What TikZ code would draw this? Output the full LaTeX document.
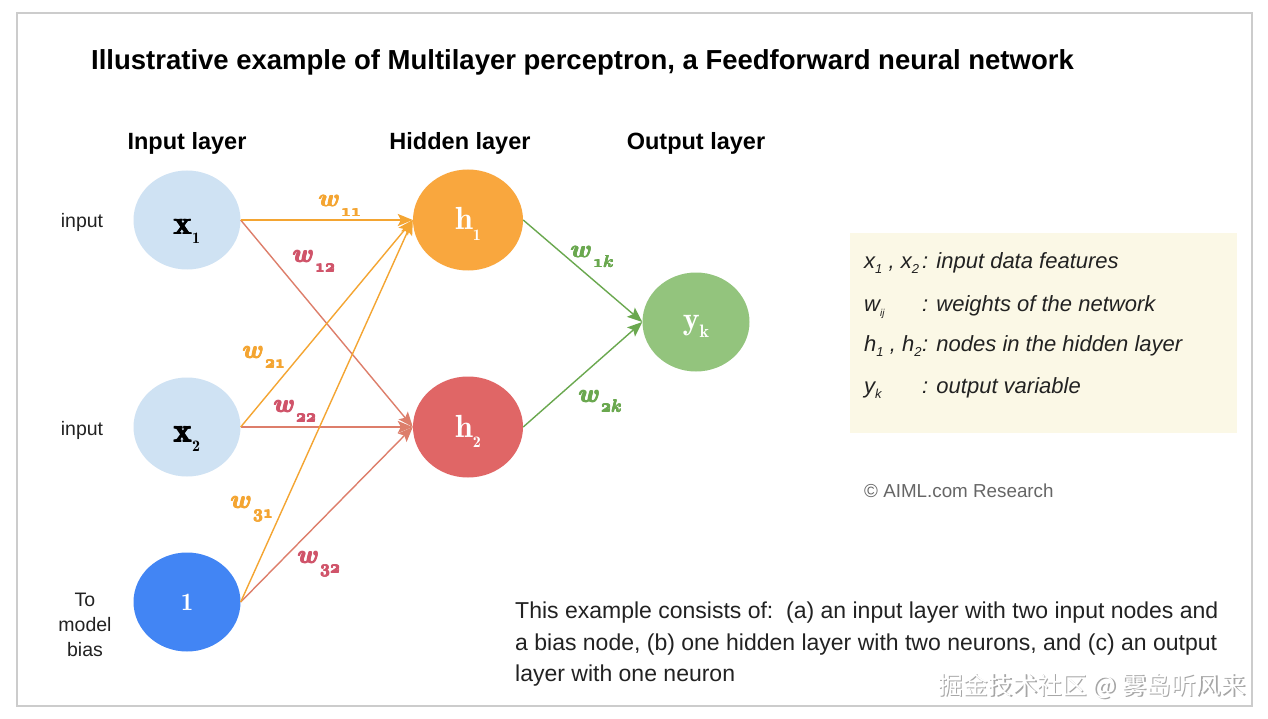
\documentclass[tikz,border=0pt]{standalone}
\usepackage{fontspec}
\usepackage{bm}
\setsansfont{Liberation Sans}
\newfontfamily\cjk{Noto Sans CJK SC}
\usetikzlibrary{arrows.meta,shapes.geometric}
\definecolor{framegray}{HTML}{CCCCCC}
\definecolor{inblue}{HTML}{CFE2F3}
\definecolor{biasblue}{HTML}{4285F4}
\definecolor{hidorange}{HTML}{F9A73E}
\definecolor{hidred}{HTML}{E06666}
\definecolor{outgreen}{HTML}{93C47D}
\definecolor{edgeorange}{HTML}{F4A532}
\definecolor{edgered}{HTML}{DD7E6B}
\definecolor{edgegreen}{HTML}{6AA84F}
\definecolor{labred}{HTML}{D0546A}
\definecolor{legfill}{HTML}{FBF8E6}
\definecolor{txtdark}{HTML}{222222}
\definecolor{copygray}{HTML}{666666}
\newcommand{\fs}[1]{\fontsize{#1}{#1}\selectfont}
\newcommand{\heavy}[2]{\rlap{#2}\rlap{\hspace{#1}#2}\rlap{\raisebox{#1}{#2}}\rlap{\hspace{#1}\raisebox{#1}{#2}}\hspace{0.5\dimexpr#1\relax}#2}
\newcommand{\wlab}[1]{{\fs{29}\heavy{0.8pt}{$\bm{w}$}}\hspace{1pt}\raisebox{-10pt}{\fs{16}\heavy{0.4pt}{$\bm{\mathnormal{#1}}$}}}
\newcommand{\lsub}[1]{\raisebox{-5pt}{\fs{13}#1}}
\begin{document}
\begin{tikzpicture}[x=1pt,y=-1pt,
  neuron/.style={ellipse, minimum width=107pt, minimum height=99pt, inner sep=0pt},
  edgeo/.style={draw=edgeorange, line width=1.4pt, -{Stealth[length=15pt,width=12pt,inset=3pt]}},
  edger/.style={draw=edgered, line width=1.4pt, -{Stealth[length=15pt,width=12pt,inset=3pt]}},
  edgeg/.style={draw=edgegreen, line width=1.4pt, -{Stealth[length=15pt,width=12pt,inset=3pt]}},
  layerlab/.style={font=\sffamily\bfseries\fs{23.5}, text=black},
  sidelab/.style={font=\sffamily\fs{19.5}, text=txtdark, align=center},
  wlabel/.style={anchor=base west, inner sep=0pt},
  legtxt/.style={font=\sffamily\itshape\fs{22}, text=txtdark, anchor=base west, inner sep=0pt},
]
\useasboundingbox (0,0) rectangle (1268,719);
\fill[white] (0,0) rectangle (1268,719);
\draw[framegray, line width=1.8pt] (17,13) rectangle (1252,706);

\node[anchor=base west, inner sep=0pt, font=\sffamily\bfseries\fs{27.5}] (title) at (91,70)
  {Illustrative example of Multilayer perceptron, a Feedforward neural network};

\node[layerlab] (linput) at (187,143) {Input layer};
\node[layerlab] (lhidden) at (460,143) {Hidden layer};
\node[layerlab] (loutput) at (696,143) {Output layer};

% neurons
\node[neuron, fill=inblue, text height=30pt, text depth=0pt] (x1) at (187,220)
  {{\fs{34}\heavy{0.4pt}{$\mathbf{x}$}}\raisebox{-9pt}{\fs{16}$\mathbf{1}$}};
\node[neuron, fill=inblue, text height=30pt, text depth=0pt] (x2) at (187,427)
  {{\fs{34}\heavy{0.4pt}{$\mathbf{x}$}}\raisebox{-9pt}{\fs{16}$\mathbf{2}$}};
\node[neuron, fill=biasblue, text=white, text height=16pt, text depth=0pt] (b) at (187,602)
  {\fs{25}$\mathbf{1}$};
\node[neuron, fill=hidorange, text=white, text height=20pt, text depth=0pt, minimum width=110pt, minimum height=101pt] (h1) at (468,220)
  {{\fs{32}$\mathbf{h}$}\raisebox{-10pt}{\fs{16}$\mathbf{1}$}};
\node[neuron, fill=hidred, text=white, text height=20pt, text depth=0pt, minimum width=110pt, minimum height=101pt] (h2) at (468,427)
  {{\fs{32}$\mathbf{h}$}\raisebox{-10pt}{\fs{16}$\mathbf{2}$}};
\node[neuron, fill=outgreen, text=white, text height=14pt, text depth=0pt] (yk) at (696,322)
  {{\fs{32}$\mathbf{y}$}\raisebox{-8pt}{\fs{18}$\mathbf{k}$}};

% side labels
\node[sidelab] (sin1) at (82,222) {input};
\node[sidelab] (sin2) at (82,430) {input};
\node[sidelab, font=\sffamily\fontsize{19.5}{25}\selectfont] (sbias) at (85,625) {To\\model\\bias};

% connectors
\draw[edger] (x1.east) -- (h2.west);
\draw[edger] (x2.east) -- (h2.west);
\draw[edger] (b.east) -- (h2.west);
\draw[edgeo] (x1.east) -- (h1.west);
\draw[edgeo] (x2.east) -- (h1.west);
\draw[edgeo] (b.east) -- (h1.west);
\draw[edgeg] (h1.east) -- (yk.west);
\draw[edgeg] (h2.east) -- (yk.west);

% weight labels
\node[wlabel, text=edgeorange] (w11) at (318,207) {\wlab{11}};
\node[wlabel, text=labred] (w12) at (292,262) {\wlab{12}};
\node[wlabel, text=edgeorange] (w21) at (242,358) {\wlab{21}};
\node[wlabel, text=labred] (w22) at (273,412) {\wlab{22}};
\node[wlabel, text=edgeorange] (w31) at (230,508) {\wlab{31}};
\node[wlabel, text=labred] (w32) at (297,563) {\wlab{32}};
\node[wlabel, text=edgegreen] (w1k) at (570,258) {\wlab{1k}};
\node[wlabel, text=edgegreen] (w2k) at (578,402) {\wlab{2k}};

% legend
\fill[legfill] (850,233) rectangle (1237,433);
\node[legtxt] (l1a) at (864,269) {x\lsub{1} , x\lsub{2}};
\node[legtxt] (l1b) at (922,269) {: input data features};
\node[legtxt] (l2a) at (864,311) {w\lsub{\fs{10}ij}};
\node[legtxt] (l2b) at (922,311) {: weights of the network};
\node[legtxt] (l3a) at (864,351) {h\lsub{1} , h\lsub{2}};
\node[legtxt] (l3b) at (922,351) {: nodes in the hidden layer};
\node[legtxt] (l4a) at (864,393) {y\lsub{k}};
\node[legtxt] (l4b) at (922,393) {: output variable};

\node[anchor=base west, inner sep=0pt, font=\sffamily\fs{18.8}, text=copygray] (copy) at (864,497) {© AIML.com Research};

\node[anchor=north west, inner sep=0pt, font=\sffamily\fontsize{23}{31.5}\selectfont, text=txtdark, align=left] (para) at (515,602)
  {This example consists of:\ \ (a) an input layer with two input nodes and\\
   a bias node, (b) one hidden layer with two neurons, and (c) an output\\
   layer with one neuron};

% watermark
\node[anchor=base west, inner sep=0pt, font=\cjk\fs{24.8}, text=gray!70] (wmsh) at (939.5,695.5) {掘金技术社区 @ 雾岛听风来};
\node[anchor=base west, inner sep=0pt, font=\cjk\fs{24.8}, text=white] (wm) at (938,694) {掘金技术社区 @ 雾岛听风来};
\end{tikzpicture}
\end{document}
